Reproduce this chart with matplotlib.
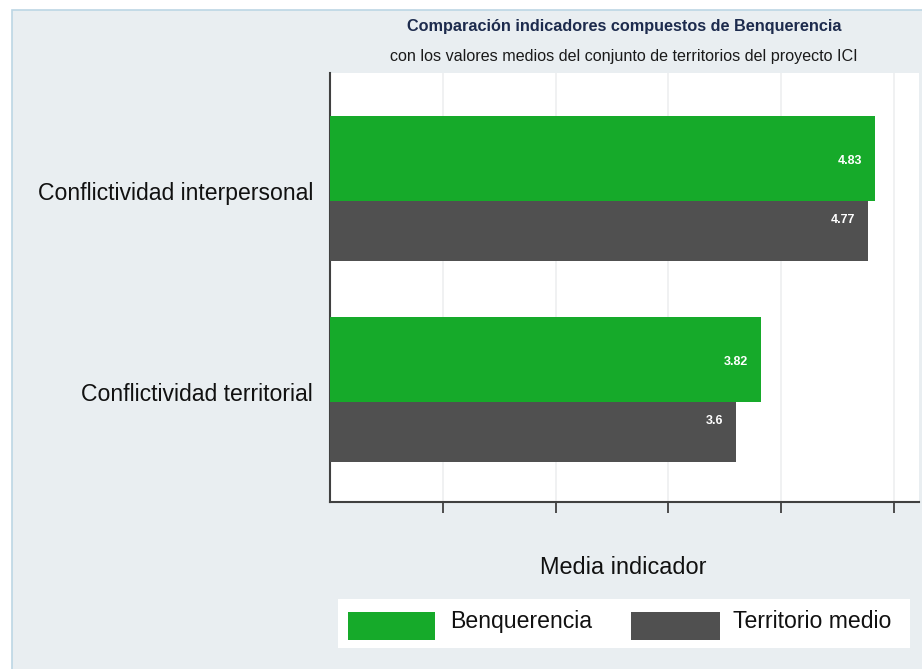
import matplotlib
matplotlib.use("Agg")
import matplotlib.pyplot as plt
from matplotlib.patches import Rectangle
import numpy as np

plt.rcParams['font.family'] = ['Liberation Sans', 'DejaVu Sans']

# Data
categories = ["Conflictividad interpersonal", "Conflictividad territorial"]
series_names = ["Benquerencia", "Territorio medio"]
benquerencia = [4.83, 3.82]
territorio_medio = [4.77, 3.60]
x_ticks = [1, 2, 3, 4, 5]

GREEN = "#16aa2a"
GRAY = "#505050"
BG = "#e9eef1"
BORDER = "#bcd6e4"

W, H = 922, 669
fig = plt.figure(figsize=(W / 100, H / 100), dpi=100)
fig.patch.set_facecolor("white")

# light panel with blue edge behind everything
fig.patches.append(Rectangle((12 / W, -0.05), 1.1, (H - 10) / H + 0.05,
                             transform=fig.transFigure, facecolor=BG,
                             edgecolor=BORDER, linewidth=1.2, zorder=-5))

ax = fig.add_axes([330 / W, (H - 502) / H, 589 / W, 429 / H])
ax.set_facecolor("white")

pos = np.arange(len(categories))
offset = 0.149
height = 0.423

# gray bars first so the green bars overlap them
ax.barh(pos + offset, territorio_medio, height=height, color=GRAY, zorder=3)
ax.barh(pos - offset, benquerencia, height=height, color=GREEN, zorder=4)

for p, v in zip(pos, benquerencia):
    ax.annotate(f"{v:g}", xy=(v, p - offset), xytext=(-13, -2),
                textcoords="offset pixels", ha="right", va="center",
                color="white", fontsize=9, fontweight="bold", zorder=5)
for p, v in zip(pos, territorio_medio):
    ax.annotate(f"{v:g}", xy=(v, p + offset), xytext=(-13, -2),
                textcoords="offset pixels", ha="right", va="center",
                color="white", fontsize=9, fontweight="bold", zorder=5)

ax.set_xlim(0, 5.221)
ax.set_ylim(1.56, -0.575)

ax.set_xticks(x_ticks)
ax.set_xticklabels([])
ax.tick_params(axis="x", direction="out", length=8, width=1.3, color="#404040")
ax.grid(axis="x", color="#eeeff0", linewidth=1.2, zorder=0)
ax.set_axisbelow(True)

ax.set_yticks([])
for p, lab in zip(pos, categories):
    ax.annotate(lab, xy=(0, p), xycoords=("axes fraction", "data"),
                xytext=(-17, -5), textcoords="offset pixels",
                ha="right", va="center", fontsize=16.6, color="#111111")

for s in ["top", "right"]:
    ax.spines[s].set_visible(False)
for s in ["left", "bottom"]:
    ax.spines[s].set_color("#404040")
    ax.spines[s].set_linewidth(1.5)

# titles
fig.text(624 / W, (H - 27) / H, "Comparación indicadores compuestos de Benquerencia",
         ha="center", va="center", fontsize=11.7, fontweight="bold", color="#1d2b4d")
fig.text(624 / W, (H - 56) / H, "con los valores medios del conjunto de territorios del proyecto ICI",
         ha="center", va="center", fontsize=11.6, color="#1a1a1a")

# axis title
fig.text(623 / W, (H - 568) / H, "Media indicador", ha="center", va="center",
         fontsize=16.9, color="#111111")

# legend
fig.patches.append(Rectangle((338 / W, (H - 648) / H), 572 / W, 49 / H,
                             transform=fig.transFigure, facecolor="white",
                             edgecolor="none", zorder=1))
legend_items = [(GREEN, 348, 435, 450), (GRAY, 631, 720, 733)]
for name, (col, x0, x1, tx) in zip(series_names, legend_items):
    fig.patches.append(Rectangle((x0 / W, (H - 639.6) / H), (x1 - x0) / W, 28 / H,
                                 transform=fig.transFigure, facecolor=col,
                                 edgecolor="none", zorder=2))
    fig.text(tx / W, (H - 628) / H, name, ha="left", va="baseline",
             fontsize=16.6, color="#111111", zorder=3)

fig.savefig("out.png", dpi=100)
